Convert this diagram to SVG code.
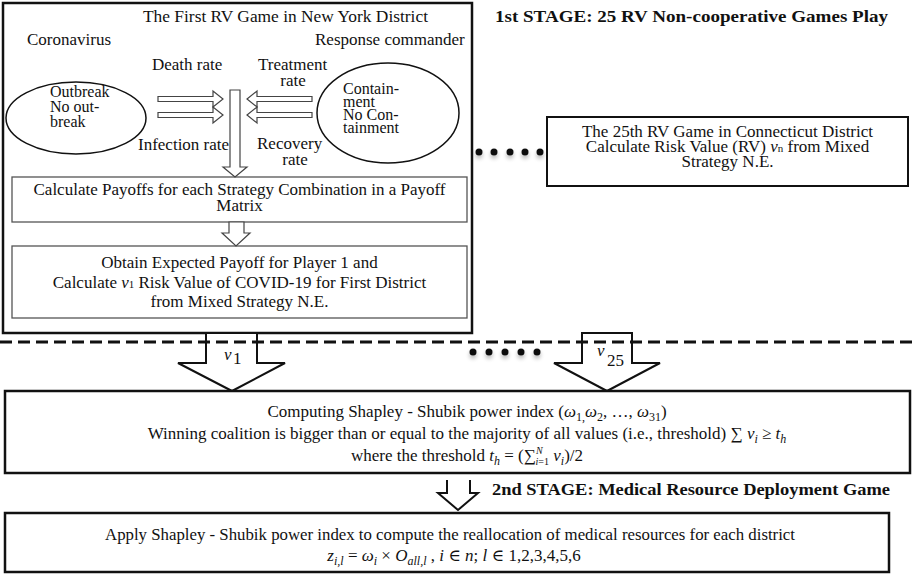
<svg xmlns="http://www.w3.org/2000/svg" width="916" height="575" viewBox="0 0 916 575" font-family="'Liberation Serif', 'Times New Roman', Times, 'DejaVu Serif', serif">
<style>
text{font-family:"Liberation Serif","Times New Roman",Times,"DejaVu Serif",serif;fill:#111;font-size:17px}
.c{text-anchor:middle}
.b{font-weight:bold}
.i{font-style:italic}
.s16{font-size:16px}
.box{fill:#fff;stroke:#111;stroke-width:2.5}
.inner{fill:#fff;stroke:#555;stroke-width:1.3}
.ell{fill:#fff;stroke:#111;stroke-width:1.5}
.barrow{fill:#fff;stroke:#444;stroke-width:1.2}
.big{fill:#fff;stroke:#111;stroke-width:2}
.dash{stroke:#111;stroke-width:3;stroke-dasharray:12 6;fill:none}
.dot{fill:#111}
</style>
<defs>
<filter id="sh" x="-2" y="-2" width="5" height="5"><feGaussianBlur in="SourceAlpha" stdDeviation="2"/><feOffset dy="3"/><feComponentTransfer><feFuncA type="linear" slope="0.3"/></feComponentTransfer><feMerge><feMergeNode/><feMergeNode in="SourceGraphic"/></feMerge></filter>
</defs>
<rect width="916" height="575" fill="#fff"/>

<g id="stage1-title">
<text x="495" y="22" class="b" textLength="393" lengthAdjust="spacingAndGlyphs">1st STAGE: 25 RV Non-cooperative Games Play</text>
</g>

<g id="game1">
<rect x="3" y="3" width="469" height="330" class="box"/>
<text x="143" y="22" textLength="285" lengthAdjust="spacingAndGlyphs">The First RV Game in New York District</text>
<text x="27" y="45">Coronavirus</text>
<text x="315" y="45">Response commander</text>
</g>

<g id="coronavirus">
<ellipse cx="76" cy="118" rx="70" ry="36" class="ell"/>
<text x="50" y="97" class="s16">Outbreak</text>
<text x="50" y="112" class="s16">No out-</text>
<text x="50" y="127" class="s16">break</text>
</g>

<g id="commander">
<ellipse cx="388" cy="113" rx="71" ry="50" class="ell"/>
<text x="343" y="94" class="s16">Contain-</text>
<text x="343" y="107" class="s16">ment</text>
<text x="343" y="120" class="s16">No Con-</text>
<text x="343" y="133" class="s16">tainment</text>
</g>

<g id="rates">
<text x="152" y="70">Death rate</text>
<text x="258" y="70">Treatment</text>
<text x="293" y="86" class="c">rate</text>
<text x="138" y="150">Infection rate</text>
<text x="257" y="149">Recovery</text>
<text x="295" y="165" class="c">rate</text>
</g>

<g id="payoffs">
<rect x="12" y="177" width="455" height="45" class="inner"/>
<text x="239.5" y="195" class="c">Calculate Payoffs for each Strategy Combination in a Payoff</text>
<text x="239.5" y="211" class="c">Matrix</text>
</g>

<g id="obtain">
<rect x="12" y="246" width="455" height="72" class="inner"/>
<text x="239.5" y="268" class="c">Obtain Expected Payoff for Player 1 and</text>
<text x="239.5" y="288" class="c">Calculate <tspan class="i">v</tspan><tspan font-size="11">1</tspan> Risk Value of COVID-19 for First District</text>
<text x="239.5" y="307" class="c">from Mixed Strategy N.E.</text>
</g>

<g id="game25">
<rect x="547" y="117" width="361" height="69" fill="#fff" stroke="#111" stroke-width="2"/>
<text x="727.5" y="137" class="c">The 25th RV Game in Connecticut District</text>
<text x="727.5" y="152" class="c">Calculate Risk Value (RV) <tspan class="i">v</tspan><tspan font-size="11">n</tspan> from Mixed</text>
<text x="727.5" y="167" class="c">Strategy N.E.</text>
</g>

<g id="ellipsis-dots" filter="url(#sh)">
<circle cx="479" cy="152" r="3.5" class="dot"/>
<circle cx="494" cy="152" r="3.5" class="dot"/>
<circle cx="510" cy="152" r="3.5" class="dot"/>
<circle cx="525" cy="152" r="3.5" class="dot"/>
<circle cx="540" cy="152" r="3.5" class="dot"/>
<circle cx="473" cy="352" r="3.5" class="dot"/>
<circle cx="489" cy="352" r="3.5" class="dot"/>
<circle cx="505" cy="352" r="3.5" class="dot"/>
<circle cx="521" cy="352" r="3.5" class="dot"/>
<circle cx="537" cy="352" r="3.5" class="dot"/>
</g>

<g id="connectors">
<path class="barrow" d="M158,96.5 H213 V91 L223,99 L213,107 V101.5 H158 Z"/>
<path class="barrow" d="M158,112.5 H213 V107 L223,115 L213,123 V117.5 H158 Z"/>
<path class="barrow" d="M312,96.5 H257 V91 L247,99 L257,107 V101.5 H312 Z"/>
<path class="barrow" d="M312,112.5 H257 V107 L247,115 L257,123 V117.5 H312 Z"/>
<path class="barrow" d="M230,90 H240 V167 H247 L235,177 L223,167 H230 Z"/>
<path class="barrow" d="M229,222 H244 V233 H250 L236,246 L222,233 H229 Z"/>
<path class="big" d="M206,334 V363 H178 L232,391 L285,363 H257 V334"/>
<path class="big" d="M582,333 V363 H554 L607,391 L660,363 H632 V333 Z"/>
<path class="big" d="M447,480 V493 H438 L458,510 L478,493 H470 V480"/>
<line x1="0" y1="342" x2="916" y2="342" class="dash"/>
<text x="224" y="360" class="i" font-size="20">v</text><text x="233" y="364" font-size="13">1</text>
<text x="597" y="356" class="i" font-size="20">v</text><text x="607" y="366" font-size="11">25</text>
</g>

<g id="shapley">
<rect x="5" y="391" width="905" height="82" class="box"/>
<text x="467" y="417" class="c">Computing Shapley - Shubik power index (<tspan class="i">ω</tspan><tspan font-size="12" dy="4">1,</tspan><tspan class="i" dy="-4">ω</tspan><tspan font-size="12" dy="4">2</tspan><tspan dy="-4">, …, </tspan><tspan class="i">ω</tspan><tspan font-size="12" dy="4">31</tspan><tspan dy="-4">)</tspan></text>
<text x="467" y="439" class="c">Winning coalition is bigger than or equal to the majority of all values (i.e., threshold) ∑ <tspan class="i">v</tspan><tspan class="i" font-size="12" dy="4">i</tspan><tspan dy="-4"> ≥ </tspan><tspan class="i">t</tspan><tspan class="i" font-size="12" dy="4">h</tspan></text>
<text x="467" y="461" class="c">where the threshold <tspan class="i">t</tspan><tspan class="i" font-size="12" dy="4">h</tspan><tspan dy="-4"> = (∑</tspan><tspan class="i" font-size="10" dy="-7">N</tspan><tspan class="i" font-size="10" dx="-7" dy="11">i</tspan><tspan font-size="10">=1</tspan><tspan class="i" dy="-4"> v</tspan><tspan class="i" font-size="12" dy="4">i</tspan><tspan dy="-4">)/2</tspan></text>
</g>

<g id="stage2-title">
<text x="492" y="495" class="b" textLength="398" lengthAdjust="spacingAndGlyphs">2nd STAGE: Medical Resource Deployment Game</text>
</g>

<g id="apply">
<rect x="5" y="513" width="884" height="59" class="box"/>
<text x="105" y="540" textLength="690" lengthAdjust="spacingAndGlyphs">Apply Shapley - Shubik power index to compute the reallocation of medical resources for each district</text>
<text x="454" y="561" class="c"><tspan class="i">z</tspan><tspan class="i" font-size="12" dy="4">i,l</tspan><tspan dy="-4"> = </tspan><tspan class="i">ω</tspan><tspan class="i" font-size="12" dy="4">i</tspan><tspan dy="-4"> × </tspan><tspan class="i">O</tspan><tspan class="i" font-size="12" dy="4">all,l</tspan><tspan dy="-4">  , </tspan><tspan class="i">i</tspan> ∈ <tspan class="i">n</tspan>; <tspan class="i">l</tspan> ∈ 1,2,3,4,5,6</text>
</g>
</svg>
